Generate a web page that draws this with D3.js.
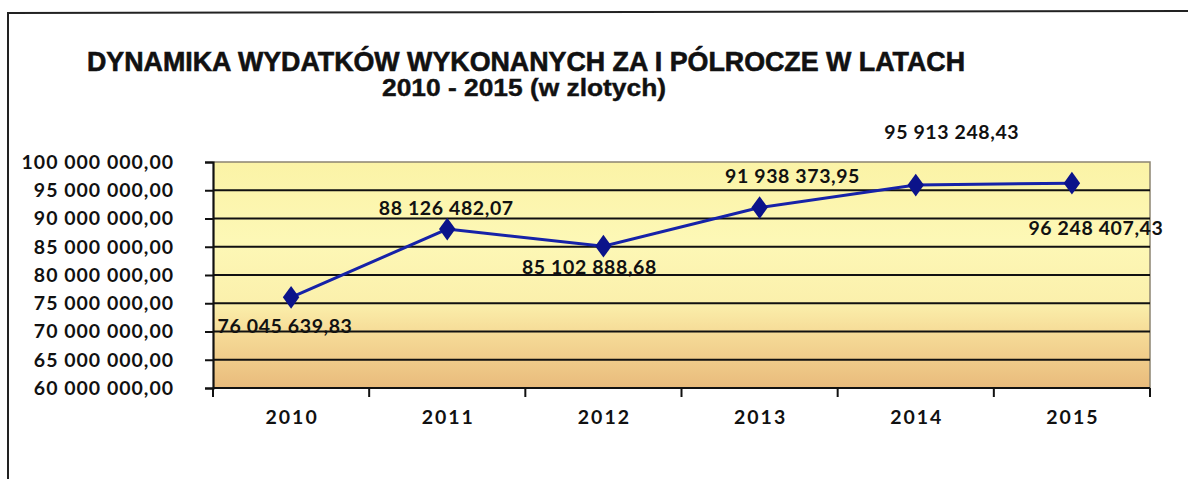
<!DOCTYPE html>
<html><head><meta charset="utf-8">
<script src="https://cdn.jsdelivr.net/npm/d3@7"></script>
<style>
html,body{margin:0;padding:0;background:#fff;}
svg{display:block;}
</style></head>
<body>
<svg id="chart" width="1188" height="479"></svg>
<script>
const titleLines = ["DYNAMIKA WYDATKÓW WYKONANYCH ZA I PÓLROCZE W LATACH", "2010 - 2015 (w zlotych)"];
const years = ["2010", "2011", "2012", "2013", "2014", "2015"];
const values = [76045639.83, 88126482.07, 85102888.68, 91938373.95, 95913248.43, 96248407.43];
const valueLabels = ["76 045 639,83", "88 126 482,07", "85 102 888,68", "91 938 373,95", "95 913 248,43", "96 248 407,43"];
const yTicks = [60000000, 65000000, 70000000, 75000000, 80000000, 85000000, 90000000, 95000000, 100000000];
// label placement offsets relative to each point (dx, dy of baseline)
const labelOffsets = [[-6, 36], [-1, -14], [-14, 28], [33, -25], [36, -46], [24, 52]];

const svg = d3.select("#chart");
const L = 213, R = 1150, T = 162, B = 388;

const fmtTick = v => {
  const s = Math.round(v).toString().replace(/\B(?=(\d{3})+(?!\d))/g, " ");
  return s + ",00";
};

// outer frame (top & left)
svg.append("path").attr("d", "M8,480 L8,13 L1188,11").attr("fill", "none").attr("stroke", "#222").attr("stroke-width", 2);

// title
const tf = "'Liberation Sans Narrow','Arial Narrow','Liberation Sans',Arial,sans-serif";
svg.append("text").attr("x", 526).attr("y", 71).attr("text-anchor", "middle")
  .attr("font-family", tf).attr("font-weight", "bold").attr("font-size", 27)
  .attr("textLength", 878).attr("lengthAdjust", "spacingAndGlyphs")
  .attr("fill", "#111").attr("stroke", "#111").attr("stroke-width", 0.6).text(titleLines[0]);
svg.append("text").attr("x", 524).attr("y", 96).attr("text-anchor", "middle")
  .attr("font-family", tf).attr("font-weight", "bold").attr("font-size", 23)
  .attr("textLength", 284).attr("lengthAdjust", "spacingAndGlyphs")
  .attr("fill", "#111").attr("stroke", "#111").attr("stroke-width", 0.4).text(titleLines[1]);

const x = d3.scaleBand().domain(years).range([L, R]).padding(0);
const y = d3.scaleLinear().domain([60000000, 100000000]).range([B, T]);

// background gradient
const defs = svg.append("defs");
const g = defs.append("linearGradient").attr("id", "bg").attr("x1", 0).attr("y1", 0).attr("x2", 0).attr("y2", 1);
g.append("stop").attr("offset", "0%").attr("stop-color", "#fbf3a6");
g.append("stop").attr("offset", "35%").attr("stop-color", "#fdf8b6");
g.append("stop").attr("offset", "62%").attr("stop-color", "#fbf0ac");
g.append("stop").attr("offset", "75%").attr("stop-color", "#f6dc98");
g.append("stop").attr("offset", "100%").attr("stop-color", "#e9bb7c");
svg.append("rect").attr("x", L).attr("y", T).attr("width", R - L).attr("height", B - T).attr("fill", "url(#bg)");
// plot border (grey top/right)
svg.append("path").attr("d", `M${L},${T} L${R},${T} L${R},${B}`).attr("fill", "none").attr("stroke", "#8c8472").attr("stroke-width", 1.5);

// gridlines
svg.append("g").selectAll("line").data(yTicks.filter(t => t > 60000000 && t < 100000000)).join("line")
  .attr("x1", L).attr("x2", R).attr("y1", d => y(d)).attr("y2", d => y(d))
  .attr("stroke", "#111").attr("stroke-width", 1.8);

const lf = "Lato,'Open Sans',sans-serif";
const FS = 19.5;
// y axis
const yAxis = d3.axisLeft(y).tickValues(yTicks).tickFormat(fmtTick).tickSize(8).tickPadding(31);
const ya = svg.append("g").attr("transform", `translate(${L},0)`).call(yAxis);
ya.select(".domain").attr("stroke", "#111").attr("stroke-width", 2.2);
ya.selectAll(".tick line").attr("stroke", "#111").attr("stroke-width", 2);
ya.selectAll(".tick text").attr("font-family", lf).attr("font-weight", "bold").attr("font-size", FS)
  .attr("letter-spacing", 1).attr("fill", "#111");

// x axis
const xb = d3.scaleLinear().domain([0, years.length]).range([L, R]);
const xa = svg.append("g").attr("transform", `translate(0,${B})`);
xa.append("line").attr("x1", L).attr("x2", R).attr("y1", 0).attr("y2", 0).attr("stroke", "#111").attr("stroke-width", 2.2);
xa.selectAll("line.tk").data(d3.range(years.length + 1)).join("line").attr("class", "tk")
  .attr("x1", d => xb(d)).attr("x2", d => xb(d)).attr("y1", 0).attr("y2", 9)
  .attr("stroke", "#111").attr("stroke-width", 2);
xa.selectAll("text").data(years).join("text")
  .attr("x", d => x(d) + x.bandwidth() / 2 + 1).attr("y", 36).attr("text-anchor", "middle")
  .attr("font-family", lf).attr("font-weight", "bold").attr("font-size", FS).attr("letter-spacing", 2)
  .attr("fill", "#111").text(d => d);

// line
const cx = (d, i) => x(years[i]) + x.bandwidth() / 2;
const line = d3.line().x((d, i) => cx(d, i)).y(d => y(d));
svg.append("path").datum(values).attr("d", line).attr("fill", "none")
  .attr("stroke", "#1622a8").attr("stroke-width", 3);

// markers
const sym = d3.symbol().type(d3.symbolDiamond).size(150);
svg.append("g").selectAll("path").data(values).join("path")
  .attr("d", sym).attr("transform", (d, i) => `translate(${cx(d, i)},${y(d)}) scale(1.25,1)`)
  .attr("fill", "#0b138a");

// data labels
svg.append("g").selectAll("text").data(values).join("text")
  .attr("x", (d, i) => cx(d, i) + labelOffsets[i][0])
  .attr("y", (d, i) => y(d) + labelOffsets[i][1])
  .attr("text-anchor", "middle").attr("font-family", lf).attr("font-weight", "bold")
  .attr("font-size", FS).attr("letter-spacing", 0.6).attr("fill", "#111").text((d, i) => valueLabels[i]);
</script>
</body></html>
